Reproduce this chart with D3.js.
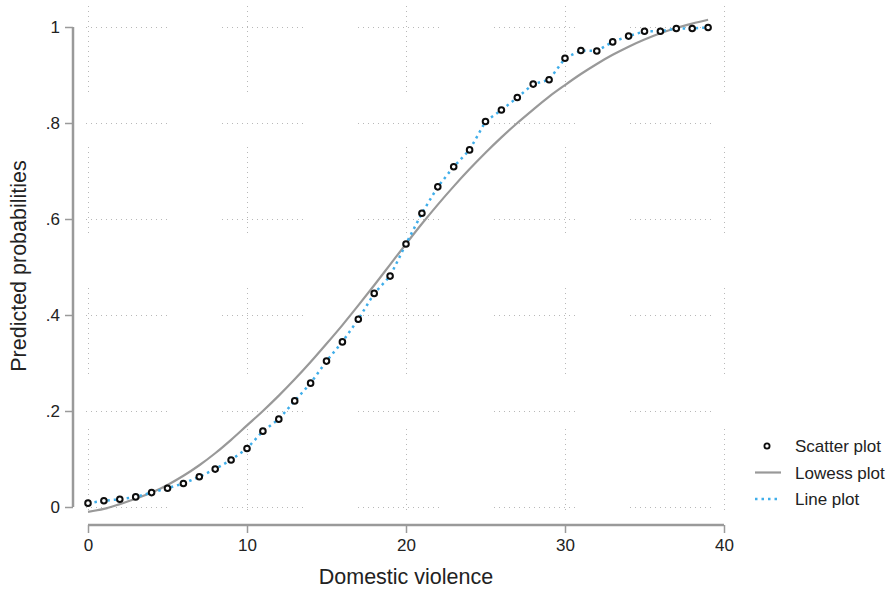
<!DOCTYPE html>
<html>
<head>
<meta charset="utf-8">
<script src="https://cdn.jsdelivr.net/npm/d3@7"></script>
<style>
  body { margin: 0; background: #fff; }
  text { font-family: Arial, "Liberation Sans", sans-serif; fill: #222; }
</style>
</head>
<body>
<svg id="chart" width="892" height="591"></svg>
<script>
// predicted probabilities at each domestic violence score (scatter + line plot)
const violence = d3.range(0, 40);
const predicted = [0.008, 0.013, 0.016, 0.021, 0.030, 0.039, 0.049, 0.063, 0.079, 0.098,
  0.122, 0.158, 0.183, 0.221, 0.258, 0.304, 0.344, 0.391, 0.445, 0.481,
  0.548, 0.612, 0.667, 0.709, 0.744, 0.803, 0.827, 0.853, 0.881, 0.890,
  0.935, 0.951, 0.950, 0.969, 0.981, 0.991, 0.991, 0.997, 0.997, 0.999];
// lowess smooth
const lowess = [-0.010, -0.004, 0.006, 0.017, 0.030, 0.046, 0.065, 0.087, 0.112, 0.140,
  0.170, 0.200, 0.232, 0.266, 0.302, 0.340, 0.379, 0.420, 0.462, 0.505,
  0.548, 0.590, 0.630, 0.668, 0.704, 0.738, 0.770, 0.800, 0.828, 0.855,
  0.879, 0.902, 0.923, 0.942, 0.959, 0.974, 0.987, 0.998, 1.007, 1.015];
const xTicks = [0, 10, 20, 30, 40];
const yTicks = [0, 0.2, 0.4, 0.6, 0.8, 1];
const legendItems = ["Scatter plot", "Lowess plot", "Line plot"];

const svg = d3.select("#chart");
const x = d3.scaleLinear().domain([0, 40]).range([88, 724]);
const y = d3.scaleLinear().domain([0, 1]).range([507, 27]);

// dotted grid, broken into pieces like the original
function gridDash(seg, gap) {
  let a = [];
  for (let i = 0; i < seg / 5; i++) a.push(1, 4);
  a[a.length - 1] = gap;
  return a.join(",");
}
const grid = svg.append("g").attr("stroke", "#b8b8b8").attr("stroke-width", 1).attr("fill", "none");
grid.selectAll(".hg").data(yTicks).join("line")
  .attr("x1", 86).attr("x2", 736)
  .attr("y1", d => Math.round(y(d)) + 0.5).attr("y2", d => Math.round(y(d)) + 0.5)
  .attr("stroke-dasharray", gridDash(85, 55));
grid.selectAll(".vg").data(xTicks).join("line")
  .attr("y1", 6).attr("y2", 514)
  .attr("x1", d => Math.round(x(d)) + 0.5).attr("x2", d => Math.round(x(d)) + 0.5)
  .attr("stroke-dasharray", gridDash(90, 55));

// axes
const yAxis = svg.append("g").attr("transform", "translate(73,0)")
  .call(d3.axisLeft(y).tickValues(yTicks).tickSize(8).tickPadding(5)
    .tickFormat(d => d === 0 ? "0" : d === 1 ? "1" : d3.format(".1f")(d).replace(/^0/, "")));
const xAxis = svg.append("g").attr("transform", "translate(0,525)")
  .call(d3.axisBottom(x).tickValues(xTicks).tickSize(8).tickPadding(6));
[yAxis, xAxis].forEach(g => {
  g.select(".domain").attr("stroke", "#9a9a9a").attr("stroke-width", 2.5);
  g.selectAll(".tick line").attr("stroke", "#9a9a9a").attr("stroke-width", 1.5);
  g.selectAll(".tick text").style("font-size", "17px").attr("fill", "#333");
});
yAxis.select(".domain").attr("d", `M0,${y(1)}V${y(0)}`);
xAxis.select(".domain").attr("d", `M${x(0)},0H${x(40)}`);

// titles
svg.append("text").attr("transform", "translate(26,266) rotate(-90)")
  .attr("text-anchor", "middle").style("font-size", "21.5px").text("Predicted probabilities");
svg.append("text").attr("x", 406).attr("y", 584)
  .attr("text-anchor", "middle").style("font-size", "21.5px").text("Domestic violence");

// lowess
svg.append("path").datum(violence)
  .attr("fill", "none").attr("stroke", "#999").attr("stroke-width", 2.2)
  .attr("d", d3.line().x(d => x(d)).y(d => y(lowess[d])).curve(d3.curveMonotoneX));

// line plot
svg.append("path").datum(violence)
  .attr("fill", "none").attr("stroke", "#40aeea").attr("stroke-width", 2.5)
  .attr("stroke-dasharray", "2.5,4")
  .attr("d", d3.line().x(d => x(d)).y(d => y(predicted[d])));

// scatter
svg.append("g").selectAll("circle").data(violence).join("circle")
  .attr("cx", d => x(d)).attr("cy", d => y(predicted[d])).attr("r", 2.8)
  .attr("fill", "#fff").attr("stroke", "#0d0d0d").attr("stroke-width", 2);

// legend
const leg = svg.append("g");
legendItems.forEach((name, i) => {
  const cy = 446 + i * 26.5;
  if (i === 0) {
    leg.append("circle").attr("cx", 767).attr("cy", cy).attr("r", 2.6)
      .attr("fill", "#fff").attr("stroke", "#0d0d0d").attr("stroke-width", 1.8);
  } else {
    leg.append("line").attr("x1", 755).attr("x2", 781).attr("y1", cy).attr("y2", cy)
      .attr("stroke", i === 1 ? "#999" : "#40aeea").attr("stroke-width", i === 1 ? 2.2 : 2.5)
      .attr("stroke-dasharray", i === 2 ? "2.5,4" : null);
  }
  leg.append("text").attr("x", 795).attr("y", cy + 6).style("font-size", "17px").text(name);
});
</script>
</body>
</html>
